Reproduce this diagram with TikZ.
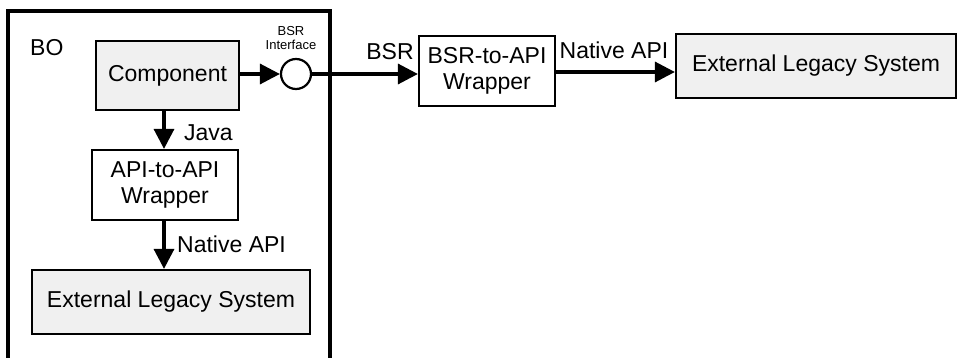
\documentclass[tikz,border=0pt]{standalone}
\usepackage{fontspec}
\setmainfont{Liberation Sans}
\usetikzlibrary{arrows.meta}
\begin{document}
\begin{tikzpicture}[x=1pt,y=-1pt,
  box/.style={draw, line width=2.2pt, inner sep=0pt, align=center, font=\fontsize{23}{26}\selectfont},
  shaded/.style={box, fill=black!6},
  lbl/.style={font=\fontsize{23}{26}\selectfont, inner sep=0pt},
  arr/.style={line width=3.4pt, -{Triangle[length=20pt,width=20pt]}},
  every node/.style={text=black}]
\useasboundingbox (0,0) rectangle (959,358);
% outer BO box
\draw[line width=3.4pt] (8,365) |- (330,11) -- (330,365);
\node[lbl, anchor=west] (bo) at (30,48) {BO};
% nodes
\node[shaded, minimum width=143pt, minimum height=69pt] (comp) at (167.5,75.5) {Component};
\node[draw, circle, line width=2.2pt, minimum size=30pt, inner sep=0pt] (iface) at (296,74) {};
\node[font=\fontsize{13}{14}\selectfont, align=center, inner sep=0pt] (ifl) at (291,38) {BSR\\Interface};
\node[box, minimum width=146pt, minimum height=70pt] (api) at (165,185) {API-to-API\\Wrapper};
\node[shaded, minimum width=278pt, minimum height=64pt] (ext1) at (171,302) {External Legacy System};
\node[box, minimum width=136pt, minimum height=70pt] (bsr) at (487,71) {BSR-to-API\\Wrapper};
\node[shaded, minimum width=280pt, minimum height=64pt] (ext2) at (816,66) {External Legacy System};
% connectors
\draw[arr] (comp.east |- iface.west) -- (iface.west);
\draw[arr] (iface.east) -- (bsr.west |- iface.east);
\draw[arr] (bsr.east |- 0,72) -- (ext2.west |- 0,72);
\draw[arr] (comp.south -| 164,0) -- (api.north -| 164,0);
\draw[arr] (api.south -| 164,0) -- (ext1.north -| 164,0);
% labels
\node[lbl, anchor=west] (java) at (184,133) {Java};
\node[lbl, anchor=west] (nat1) at (177,244) {Native API};
\node[lbl] (bsrl) at (390,52) {BSR};
\node[lbl] (nat2) at (614,50) {Native API};
\end{tikzpicture}
\end{document}
